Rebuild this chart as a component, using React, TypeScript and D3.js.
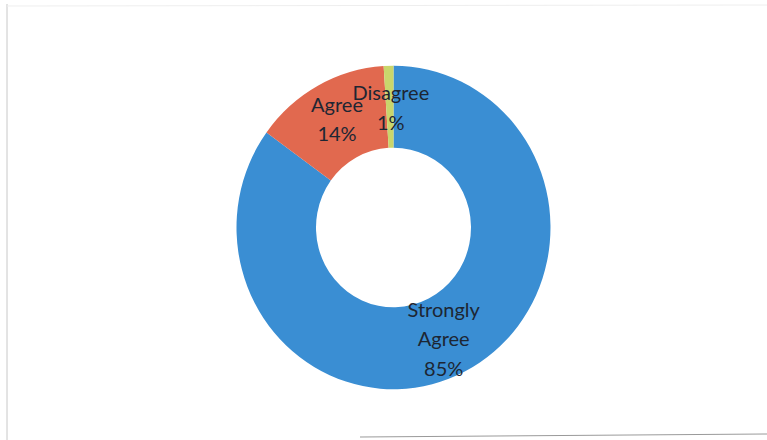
import React from "react";
import * as d3 from "d3";

const categories = ["Strongly Agree", "Agree", "Disagree"];
const values = [85, 14, 1];
const labelLines = [["Strongly", "Agree", "85%"], ["Agree", "14%"], ["Disagree", "1%"]];
const colors = ["#3a8ed3", "#e1694f", "#c9d66c"];
const labelOffsets = [[-3, 3], [0, -3], [1, 0]];

export default function App() {
  const W = 767, H = 440;
  const cx = 393.5, cy = 227.5;
  const outerR = 157, innerR = 77.5;
  const sy = 1.03;
  const pie = d3.pie<number>().value((d) => d).sort(null);
  const arcs = pie(values);
  const arc = d3.arc<d3.PieArcDatum<number>>().innerRadius(innerR).outerRadius(outerR);
  const lh = 29.5;
  return (
    <svg width={W} height={H} style={{ position: "absolute", left: 0, top: 0, background: "#fff" }}>
      <line x1={7} y1={4} x2={7} y2={440} stroke="#c8c8c8" strokeWidth={1} />
      <line x1={360} y1={437} x2={767} y2={434} stroke="#9a9a9a" strokeWidth={1} />
      <line x1={7} y1={6} x2={767} y2={5} stroke="#eeeeee" strokeWidth={1} />
      <g transform={`translate(${cx},${cy}) scale(1,${sy})`}>
        {arcs.map((a, i) => (
          <path key={categories[i]} d={arc(a) || ""} fill={colors[i]} />
        ))}
      </g>
      <g transform={`translate(${cx},${cy})`}>
        {arcs.map((a, i) => {
          const [x, y0] = arc.centroid(a);
          const y = y0 * sy;
          const lines = labelLines[i];
          const tx = x + labelOffsets[i][0];
          const ty = y + labelOffsets[i][1] - ((lines.length - 1) * lh) / 2;
          return (
            <text key={"t" + i} x={tx} y={ty} textAnchor="middle" dominantBaseline="central"
              fontFamily="Lato, 'Open Sans', sans-serif" fontSize={20} fill="#1d2633">
              {lines.map((l, j) => (
                <tspan key={j} x={tx} dy={j === 0 ? 0 : lh}>{l}</tspan>
              ))}
            </text>
          );
        })}
      </g>
    </svg>
  );
}
